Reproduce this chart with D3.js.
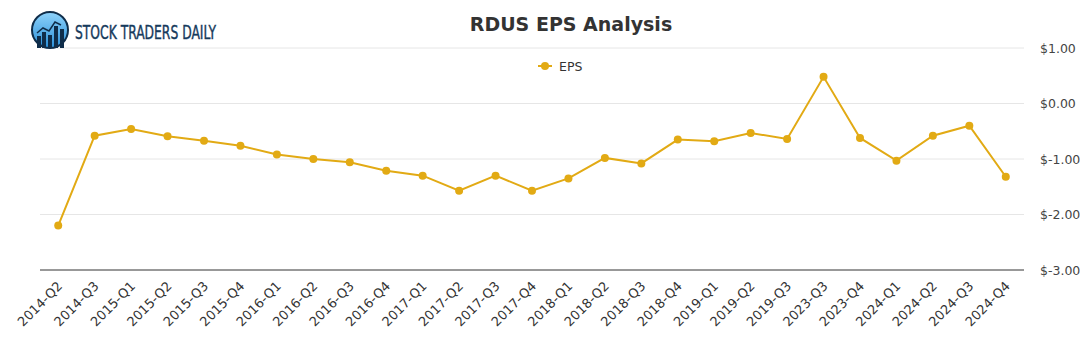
<!DOCTYPE html>
<html><head><meta charset="utf-8">
<script src="https://cdn.jsdelivr.net/npm/d3@7"></script>
<style>body{margin:0;background:#fff}svg{display:block}</style>
</head><body>
<svg id="c" width="1091" height="350"></svg>
<script>
const categories = ["2014-Q2","2014-Q3","2015-Q1","2015-Q2","2015-Q3","2015-Q4","2016-Q1","2016-Q2","2016-Q3","2016-Q4","2017-Q1","2017-Q2","2017-Q3","2017-Q4","2018-Q1","2018-Q2","2018-Q3","2018-Q4","2019-Q1","2019-Q2","2019-Q3","2023-Q3","2023-Q4","2024-Q1","2024-Q2","2024-Q3","2024-Q4"];
const eps = [-2.20,-0.58,-0.46,-0.59,-0.67,-0.76,-0.92,-1.00,-1.06,-1.21,-1.30,-1.57,-1.30,-1.57,-1.35,-0.98,-1.08,-0.65,-0.68,-0.53,-0.64,0.48,-0.62,-1.03,-0.58,-0.40,-1.32];
const yTicks = [1,0,-1,-2,-3];
const title = "RDUS EPS Analysis";
const seriesName = "EPS";

(function(){
const svg = d3.select("#c");
const mLeft = 40, mRight = 1024, mTop = 48, mBottom = 270;
const color = "#e2aa14";

const x = d3.scaleBand().domain(categories).range([mLeft, mRight]);
const y = d3.scaleLinear().domain([-3, 1]).range([mBottom, mTop]);

// gridlines
svg.append("g").selectAll("line").data(yTicks.filter(d => d !== -3)).join("line")
  .attr("x1", mLeft).attr("x2", mRight)
  .attr("y1", d => y(d)).attr("y2", d => y(d))
  .attr("stroke", "#e6e6e6").attr("stroke-width", 1);

// bottom axis line
svg.append("line").attr("x1", mLeft).attr("x2", mRight).attr("y1", y(-3)).attr("y2", y(-3))
  .attr("stroke", "#333").attr("stroke-width", 1);

// y labels right
svg.append("g").selectAll("text").data(yTicks).join("text")
  .attr("x", 1040).attr("y", d => y(d) + 4.5)
  .attr("font-family", "DejaVu Sans").attr("font-size", 12.5).attr("fill", "#444")
  .text(d => "$" + d.toFixed(2));

// x labels
svg.append("g").selectAll("text").data(categories).join("text")
  .attr("transform", d => `translate(${x(d) + x.bandwidth()/2 + 5},${mBottom + 17}) rotate(-45)`)
  .attr("text-anchor", "end")
  .attr("font-family", "DejaVu Sans").attr("font-size", 13).attr("fill", "#333")
  .text(d => d);

// line
const line = d3.line().x((d, i) => x(categories[i]) + x.bandwidth()/2).y(d => y(d));
svg.append("path").datum(eps).attr("d", line).attr("fill", "none")
  .attr("stroke", color).attr("stroke-width", 2);
svg.append("g").selectAll("circle").data(eps).join("circle")
  .attr("cx", (d, i) => x(categories[i]) + x.bandwidth()/2).attr("cy", d => y(d))
  .attr("r", 4).attr("fill", color);

// title
svg.append("text").attr("x", 571).attr("y", 31).attr("text-anchor", "middle")
  .attr("font-family", "DejaVu Sans").attr("font-weight", "bold").attr("font-size", 19)
  .attr("fill", "#333").text(title);

// legend
const lg = svg.append("g");
lg.append("line").attr("x1", 538).attr("x2", 552).attr("y1", 66).attr("y2", 66)
  .attr("stroke", color).attr("stroke-width", 2);
lg.append("circle").attr("cx", 545).attr("cy", 66).attr("r", 4).attr("fill", color);
lg.append("text").attr("x", 559).attr("y", 70.5).attr("font-family", "DejaVu Sans")
  .attr("font-size", 12.5).attr("fill", "#333").text(seriesName);

// logo
const defs = svg.append("defs");
const grad = defs.append("linearGradient").attr("id", "lg1").attr("x1", 0).attr("y1", 0).attr("x2", 0).attr("y2", 1);
grad.append("stop").attr("offset", "0%").attr("stop-color", "#8fd3fb");
grad.append("stop").attr("offset", "100%").attr("stop-color", "#2a8fd8");
const logo = svg.append("g");
logo.append("circle").attr("cx", 50).attr("cy", 30).attr("r", 18).attr("fill", "url(#lg1)")
  .attr("stroke", "#0f2d4a").attr("stroke-width", 2);
const bars = [[37,36,12],[42,32,16],[48,35,13],[54,26,22],[60,29,19]];
bars.forEach(b => logo.append("rect").attr("x", b[0]).attr("y", b[1]).attr("width", 4).attr("height", b[2]).attr("fill", "#0f2d4a"));
logo.append("polyline").attr("points", "37,33 43,28 49,31 55,22 61,25").attr("fill", "none")
  .attr("stroke", "#0f2d4a").attr("stroke-width", 1.5);
logo.append("text").attr("x", 75).attr("y", 39).attr("textLength", 141).attr("lengthAdjust", "spacingAndGlyphs")
  .attr("font-family", "DejaVu Sans Condensed, DejaVu Sans").attr("font-size", 19)
  .attr("fill", "#163a5c").attr("stroke", "#163a5c").attr("stroke-width", 0.4).text("STOCK TRADERS DAILY");
})();
</script>
</body></html>
